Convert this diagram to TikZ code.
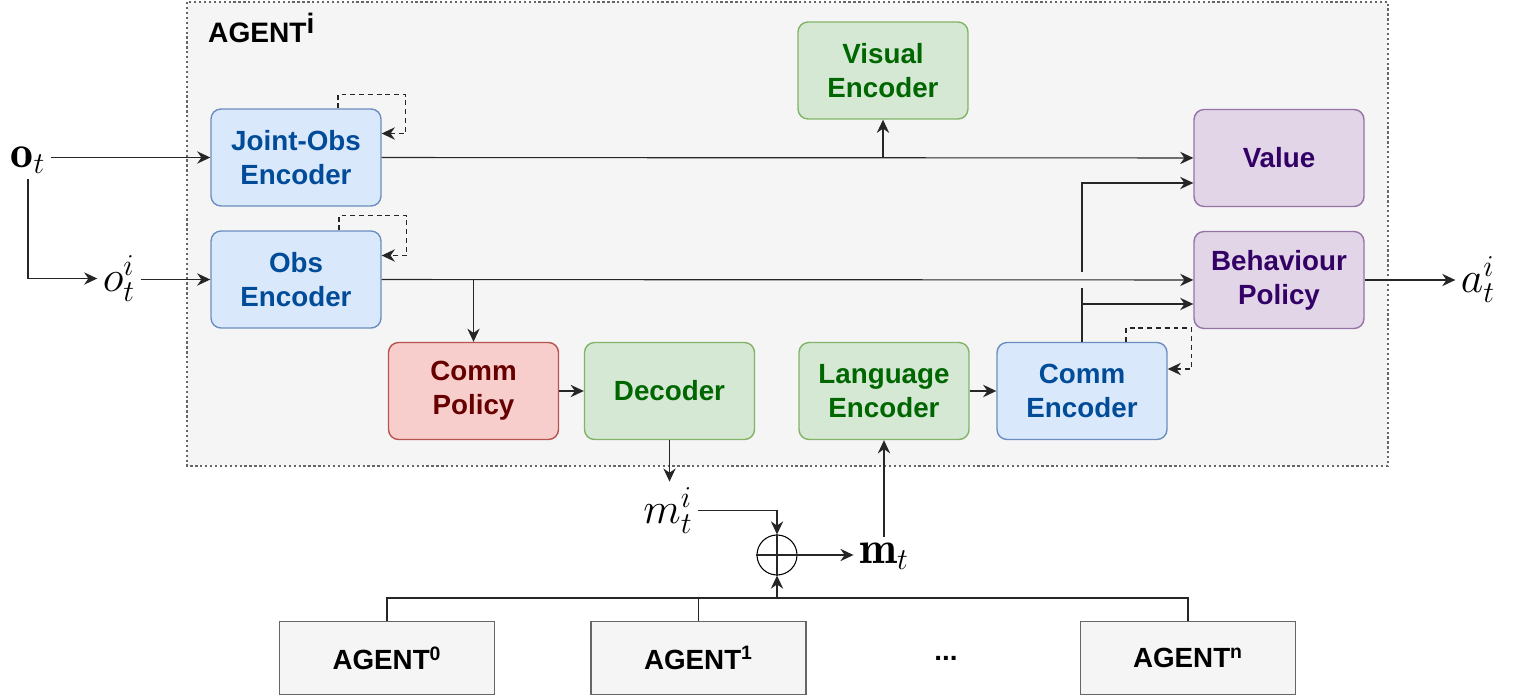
\documentclass[tikz,border=0pt]{standalone}
\usepackage{fontspec}
\usepackage{amsmath}
\usetikzlibrary{arrows.meta,calc}
\newfontfamily\diafont{Liberation Sans}
\definecolor{bluefill}{HTML}{DAE8FC}
\definecolor{blueline}{HTML}{6C8EBF}
\definecolor{bluetext}{HTML}{004C99}
\definecolor{greenfill}{HTML}{D5E8D4}
\definecolor{greenline}{HTML}{82B366}
\definecolor{greentext}{HTML}{006600}
\definecolor{redfill}{HTML}{F8CECC}
\definecolor{redline}{HTML}{B85450}
\definecolor{redtext}{HTML}{660000}
\definecolor{purplefill}{HTML}{E1D5E7}
\definecolor{purpleline}{HTML}{9673A6}
\definecolor{purpletext}{HTML}{330066}
\definecolor{greyfill}{HTML}{F5F5F5}
\definecolor{greyline}{HTML}{666666}

\begin{document}
\begin{tikzpicture}[x=0.02cm,y=-0.02cm,
  box/.style={draw, rounded corners=0.2cm, minimum width=3.4cm, minimum height=1.94cm, align=center, line width=0.8pt, font=\diafont\bfseries\fontsize{15.8}{19.5}\selectfont},
  bluebox/.style={box, fill=bluefill, draw=blueline, text=bluetext},
  greenbox/.style={box, fill=greenfill, draw=greenline, text=greentext},
  redbox/.style={box, fill=redfill, draw=redline, text=redtext},
  purplebox/.style={box, fill=purplefill, draw=purpleline, text=purpletext},
  agentbox/.style={draw=greyline, fill=greyfill, minimum width=4.3cm, minimum height=1.46cm, line width=0.7pt, font=\diafont\bfseries\fontsize{15.8}{19.5}\selectfont},
  sym/.style={inner sep=3pt, font=\fontsize{26}{30}\selectfont},
  conn/.style={line width=0.65pt, draw=black!85},
  arr/.style={conn, -{Stealth[length=7.5pt,width=7pt]}},
  loopy/.style={arr, line width=0.85pt, dash pattern=on 2.8pt off 2.2pt}]
\useasboundingbox (0,0) rectangle (1514,696);
\filldraw[fill=greyfill, draw=black!60, line width=1.4pt, dash pattern=on 1.3pt off 1.5pt] (187,2) rectangle (1388,466);
\node[anchor=base west, font=\diafont\bfseries\fontsize{16}{19}\selectfont] (title) at (202,43) {AGENT\raisebox{5.5pt}{i}};

\node[bluebox] (jo) at (296,157.5) {Joint-Obs\\Encoder};
\node[bluebox] (obs) at (296,279.5) {Obs\\Encoder};
\node[greenbox] (vis) at (883,70.5) {Visual\\Encoder};
\node[purplebox] (val) at (1279,158) {Value};
\node[purplebox] (beh) at (1279,280) {Behaviour\\Policy};
\node[redbox] (cpol) at (473.5,391) {Comm\\Policy};
\node[greenbox] (dec) at (669.5,391) {Decoder};
\node[greenbox] (lang) at (884,391) {Language\\Encoder};
\node[bluebox] (cenc) at (1082,391) {Comm\\Encoder};

\node[sym, anchor=base] (ot) at (28,167) {$\mathbf{o}_t$};
\node[sym, anchor=base] (oti) at (119,291) {$o_t^i$};
\node[sym, anchor=base] (ati) at (1478,292) {$a_t^i$};
\node[sym, anchor=base] (mti) at (668,523) {$m_t^i$};
\node[sym, anchor=base] (mt) at (884,563) {$\mathbf{m}_t$};
\node[circle, draw, line width=0.6pt, minimum size=0.8cm, inner sep=0pt] (sum) at (777,555) {};
\draw[conn] (sum.north) -- (sum.south) (sum.west) -- (sum.east);

\node[agentbox] (a0) at (387,658) {AGENT\textsuperscript{0}};
\node[agentbox] (a1) at (698.5,658) {AGENT\textsuperscript{1}};
\node[font=\diafont\bfseries\fontsize{15.8}{19.5}\selectfont] (dots) at (946,658) {...};
\node[agentbox] (an) at (1188,658) {AGENT\textsuperscript{n}};
\coordinate (bus) at (777,598);

\draw[arr] (ot.east |- jo.west) -- (jo.west);
\draw[arr] (ot.south) |- (oti.west);
\draw[arr] (oti.east |- obs.west) -- (obs.west);
\draw[arr] (jo) -- (val);
\draw[arr] (vis.south |- jo.east) -- (vis);
\draw[arr] (obs) -- (beh);
\draw[arr] (cpol.north |- obs.east) -- (cpol);
\draw[arr] (cpol) -- (dec);
\draw[arr] (dec.south) -- (dec.south |- mti.north);
\draw[arr] (mti.east) -| (sum.north);
\draw[arr] (sum.east) -- (mt.west |- sum.east);
\draw[arr] (lang.south |- mt.north) -- (lang.south);
\draw[arr, line width=1.1pt] (lang) -- (cenc);
\draw[conn] (cenc.north) -- ($(cenc.north |- obs.east)+(0,8)$);
\draw[arr] ($(cenc.north |- obs.east)+(0,-8)$) |- ($(val.west)+(0,25)$);
\draw[arr] (cenc.north |- beh.west) ++(0,24) -- ($(beh.west)+(0,24)$);
\draw[arr] (beh.east) -- (ati.west |- beh.east);
\draw[loopy] ($(jo.north)+(42,0)$) -- ++(0,-14) -| ($(jo.east)+(24,-24)$) -- ($(jo.east)+(0,-24)$);
\draw[loopy] ($(obs.north)+(43,0)$) -- ++(0,-15) -| ($(obs.east)+(25,-24)$) -- ($(obs.east)+(0,-24)$);
\draw[loopy] ($(cenc.north)+(44,0)$) -- ++(0,-14) -| ($(cenc.east)+(24,-22)$) -- ($(cenc.east)+(0,-22)$);

\draw[conn] (a0.north) |- (an.north |- bus) -- (an.north);
\draw[conn] (a1.north) -- (a1.north |- bus);
\draw[arr] (bus) -- (sum.south);
\end{tikzpicture}
\end{document}
